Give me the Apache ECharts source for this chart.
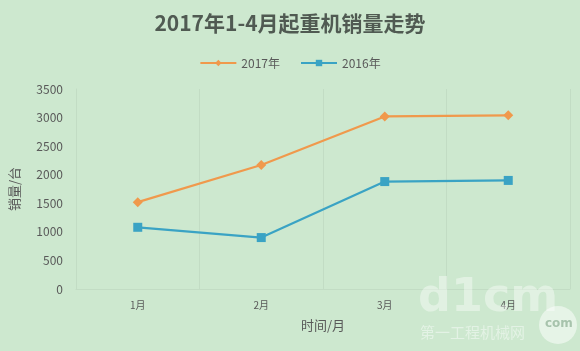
<!DOCTYPE html>
<html><head><meta charset="utf-8">
<script src="https://cdn.jsdelivr.net/npm/echarts@6/dist/echarts.min.js"></script>
<style>html,body{margin:0;padding:0;background:#cde8cf;}#c{width:580px;height:351px;}</style>
</head><body><div id="c"></div>
<script>
const categories = ['1月', '2月', '3月', '4月'];
const sales2017 = [1520, 2170, 3020, 3040];
const sales2016 = [1080, 900, 1880, 1900];
const yTicks = [0, 500, 1000, 1500, 2000, 2500, 3000, 3500];

const chart = echarts.init(document.getElementById('c'));
const font = '"Microsoft YaHei","Noto Sans CJK SC",sans-serif';
chart.setOption({
  backgroundColor: '#cde8cf',
  animation: false,
  title: {
    text: '2017年1-4月起重机销量走势', left: 'center', top: 8,
    textStyle: { fontSize: 21, fontWeight: 'bold', color: '#505a52', fontFamily: font }
  },
  legend: {
    top: 52, left: 'center', itemWidth: 36, itemHeight: 8, itemGap: 20,
    textStyle: { fontSize: 12, color: '#595959', fontFamily: font },
    data: ['2017年', '2016年']
  },
  grid: { left: 73, right: 10, top: 89, bottom: 62 },
  xAxis: {
    type: 'category', data: categories, boundaryGap: true,
    name: '时间/月', nameLocation: 'middle', nameGap: 30,
    nameTextStyle: { fontSize: 13, color: '#595959', fontFamily: font },
    axisLine: { show: true, lineStyle: { color: '#c2dcc4' } },
    axisTick: { show: false },
    axisLabel: { fontSize: 10, color: '#595959', margin: 11, fontFamily: font },
    splitLine: { show: true, lineStyle: { color: '#c2dcc4' } }
  },
  yAxis: {
    type: 'value', min: yTicks[0], max: yTicks[yTicks.length - 1], interval: 500,
    name: '销量/台', nameLocation: 'middle', nameGap: 55, nameRotate: 90,
    nameTextStyle: { fontSize: 13, color: '#595959', fontFamily: font },
    axisLine: { show: true, lineStyle: { color: '#c2dcc4' } },
    axisTick: { show: false },
    axisLabel: { fontSize: 12, color: '#595959', margin: 13, fontFamily: font,
      formatter: function (v) { return String(v); } },
    splitLine: { show: false }
  },
  series: [
    {
      name: '2017年', type: 'line', data: sales2017,
      symbol: 'diamond', symbolSize: 10,
      itemStyle: { color: '#f0994c' },
      lineStyle: { width: 2.2, color: '#f0994c' }
    },
    {
      name: '2016年', type: 'line', data: sales2016,
      symbol: 'rect', symbolSize: 9,
      itemStyle: { color: '#3aa3c4' },
      lineStyle: { width: 2.2, color: '#3aa3c4' }
    }
  ],
  graphic: [
    { type: 'text', left: 418, top: 276, z: 100,
      style: { text: 'd1cm', fontSize: 46, fontWeight: 'bold', fontFamily: 'DejaVu Sans', fill: 'rgba(255,255,255,0.4)' } },
    { type: 'text', left: 420, top: 325, z: 100,
      style: { text: '第一工程机械网', fontSize: 15, fontFamily: font, fill: 'rgba(255,255,255,0.45)' } },
    { type: 'circle', shape: { cx: 558, cy: 325, r: 19 }, z: 100,
      style: { fill: 'rgba(255,255,255,0.5)' } },
    { type: 'text', left: 545, top: 318, z: 101,
      style: { text: 'com', fontSize: 12, fontWeight: 'bold', fontFamily: 'DejaVu Sans', fill: 'rgba(160,190,165,0.9)' } }
  ]
});
</script></body></html>
